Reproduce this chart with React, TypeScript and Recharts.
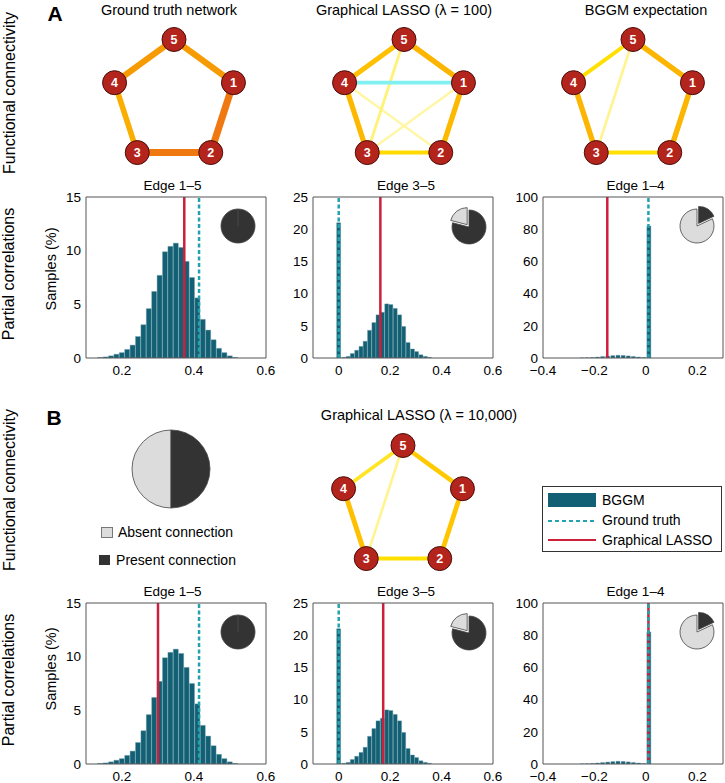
import React from "react";
import {
  Bar,
  Cell,
  ComposedChart,
  Pie,
  PieChart,
  ReferenceLine,
  Scatter,
  ScatterChart,
  XAxis,
  YAxis,
} from "recharts";

const FONT = '"Liberation Sans", Arial, Helvetica, sans-serif';

// five regions laid out on a unit pentagon
const NODES = [
  { id: 1, x: 0.951, y: 0.309 },
  { id: 2, x: 0.588, y: -0.809 },
  { id: 3, x: -0.588, y: -0.809 },
  { id: 4, x: -0.951, y: 0.309 },
  { id: 5, x: 0, y: 1 },
];

// [from, to, partial correlation]
type Edge = [number, number, number];
const truthEdges: Edge[] = [[1, 2, 0.5], [2, 3, 0.5], [1, 5, 0.42], [4, 5, 0.42], [3, 4, 0.36]];
const lasso100Edges: Edge[] = [
  [2, 4, 0.06], [1, 3, 0.06], [3, 5, 0.1], [1, 4, -0.155],
  [2, 3, 0.22], [4, 5, 0.3], [1, 2, 0.33], [3, 4, 0.33], [1, 5, 0.34],
];
const bggmEdges: Edge[] = [[3, 5, 0.08], [4, 5, 0.2], [2, 3, 0.2], [1, 5, 0.34], [1, 2, 0.34], [3, 4, 0.34]];
const lasso10kEdges: Edge[] = [[3, 5, 0.08], [4, 5, 0.17], [2, 3, 0.2], [1, 5, 0.27], [1, 2, 0.28], [3, 4, 0.3]];

// BGGM posterior samples (% of samples per bin)
const edge15X = [0.14, 0.155, 0.17, 0.185, 0.2, 0.215, 0.23, 0.245, 0.26, 0.275, 0.29, 0.305, 0.32, 0.335, 0.35, 0.365, 0.38, 0.395, 0.41, 0.425, 0.44, 0.455, 0.47, 0.485, 0.5, 0.515];
const edge15Pct = [0.05, 0.1, 0.2, 0.35, 0.5, 0.8, 1.2, 2.0, 3.1, 4.6, 6.2, 7.7, 9.9, 10.4, 10.7, 10.3, 9.0, 7.5, 5.6, 3.6, 2.6, 1.7, 0.9, 0.5, 0.2, 0.05];
const edge35X = [0, 0.02, 0.037, 0.053, 0.07, 0.087, 0.103, 0.12, 0.137, 0.153, 0.17, 0.187, 0.203, 0.22, 0.237, 0.253, 0.27, 0.287, 0.303, 0.32, 0.337, 0.353];
const edge35Pct = [21, 0.1, 0.25, 0.7, 1.2, 1.8, 2.6, 4.3, 5.5, 6.7, 7.1, 8.4, 8.3, 7.7, 6.7, 4.9, 2.4, 1.4, 1.0, 0.5, 0.25, 0.1];
const edge14X = [-0.25, -0.23, -0.21, -0.19, -0.17, -0.15, -0.13, -0.11, -0.09, -0.07, -0.05, -0.03, -0.01, 0.01];
const edge14Pct = [0.05, 0.15, 0.3, 0.6, 0.9, 1.2, 1.5, 1.7, 1.6, 1.3, 1.0, 0.6, 0.3, 82];

const truth = { e15: 0.414, e35: 0, e14: 0.01 };
const lassoA = { e15: 0.373, e35: 0.162, e14: -0.15 };
const lassoB = { e15: 0.3, e35: 0.173, e14: 0.01 };

// share of samples: [absent, present]
const pie15 = [0, 100];
const pie35 = [21, 79];
const pie14 = [82, 18];
const pieLegend = [50, 50];
const sliceNames = ["Absent connection", "Present connection"];

const e15Ticks = [0.1, 0.2, 0.3, 0.4, 0.5, 0.6];
const e15Labels = [0.2, 0.4, 0.6];
const e35Ticks = [-0.1, 0, 0.1, 0.2, 0.3, 0.4, 0.5, 0.6];
const e35Labels = [0, 0.2, 0.4, 0.6];
const e14Ticks = [-0.4, -0.3, -0.2, -0.1, 0, 0.1, 0.2, 0.3];
const e14Labels = [-0.4, -0.2, 0, 0.2];

const BAR = "#135F73";
const RED = "#CC1F3C";
const TEAL = "#22A3AE";
const AXIS = "#555";

const hist = (xs: number[], ys: number[]) => xs.map((x, i) => ({ x, pct: ys[i] }));
const fmt = (v: number) => (v < 0 ? "\u2212" : "") + String(Math.abs(Math.round(v * 100) / 100));

const STOPS: Array<[number, number[]]> = [
  [0.05, [255, 248, 176]],
  [0.1, [255, 242, 122]],
  [0.2, [255, 224, 0]],
  [0.3, [255, 192, 0]],
  [0.4, [247, 164, 0]],
  [0.5, [240, 120, 16]],
];

const edgeStyle = (w: number) => {
  const a = Math.abs(w);
  if (w < 0) return { color: "#80F0F0", width: 2 + 12 * a };
  let rgb = STOPS[0][1];
  for (let i = 1; i < STOPS.length; i++) {
    const [a0, c0] = STOPS[i - 1];
    const [a1, c1] = STOPS[i];
    if (a >= a1) rgb = c1;
    else if (a > a0) {
      const t = (a - a0) / (a1 - a0);
      rgb = c0.map((c, k) => Math.round(c + t * (c1[k] - c)));
      break;
    }
  }
  return { color: `rgb(${rgb.join(",")})`, width: 1.8 + 10.5 * a };
};

const NodeDot = (props: any) => {
  const { cx, cy, payload } = props;
  return (
    <g>
      <circle cx={cx} cy={cy} r={12} fill="#B3241C" stroke="#4a0c08" strokeWidth={1} />
      <text x={cx} y={cy} dy="0.36em" textAnchor="middle" fill="#fff" fontSize={12.5} fontWeight={700} fontFamily={FONT}>
        {payload.id}
      </text>
    </g>
  );
};

const nodeById = (id: number) => NODES.find((n) => n.id === id)!;

const Network = ({ edges, cx, cy }: { edges: Edge[]; cx: number; cy: number }) => (
  <div style={{ position: "absolute", left: cx - 80, top: cy - 80 }}>
    <ScatterChart width={160} height={160} margin={{ top: 0, right: 0, bottom: 0, left: 0 }}>
      <XAxis type="number" dataKey="x" domain={[-1.28, 1.28]} hide />
      <YAxis type="number" dataKey="y" domain={[-1.28, 1.28]} hide />
      {edges.map(([a, b, w]) => {
        const s = edgeStyle(w);
        return (
          <Scatter
            key={`${a}-${b}`}
            data={[nodeById(a), nodeById(b)]}
            line={{ stroke: s.color, strokeWidth: s.width }}
            shape={() => <g />}
            isAnimationActive={false}
          />
        );
      })}
      <Scatter data={NODES} shape={NodeDot} isAnimationActive={false} />
    </ScatterChart>
  </div>
);

const PLOT_W = 180;
const PLOT_H = 161;
const M_TOP = 10;

type HistProps = {
  data: { x: number; pct: number }[];
  xDomain: [number, number];
  xTicks: number[];
  xLabels: number[];
  yTicks: number[];
  barSize: number;
  lasso: number;
  truthX: number;
  left: number;
  top: number;
};

const Histogram = ({ data, xDomain, xTicks, xLabels, yTicks, barSize, lasso, truthX, left, top }: HistProps) => {
  const yDomain: [number, number] = [0, yTicks[yTicks.length - 1]];
  const tickStyle = { fill: "#000", fontSize: 13.5, fontFamily: FONT };
  return (
    <div style={{ position: "absolute", left: left - 36, top: top - M_TOP }}>
      <ComposedChart width={36 + PLOT_W + 12} height={M_TOP + PLOT_H + 26} data={data} margin={{ top: M_TOP, right: 12, bottom: 0, left: 0 }}>
        <XAxis xAxisId="b" type="number" dataKey="x" domain={xDomain} ticks={xLabels} interval={0} tickFormatter={fmt}
          tickLine={false} tickSize={0} tickMargin={7} height={26} axisLine={{ stroke: AXIS }} tick={tickStyle} allowDataOverflow />
        <XAxis xAxisId="t" orientation="top" type="number" domain={xDomain} ticks={xTicks} interval={0} mirror tick={false}
          tickSize={3} axisLine={{ stroke: AXIS }} tickLine={{ stroke: "#999" }} allowDataOverflow />
        <YAxis yAxisId="l" type="number" domain={yDomain} ticks={yTicks} interval={0} width={36} tickLine={false}
          tickSize={0} tickMargin={5} axisLine={{ stroke: AXIS }} tick={tickStyle} allowDataOverflow />
        <YAxis yAxisId="r" orientation="right" type="number" domain={yDomain} ticks={yTicks} interval={0} mirror tick={false}
          tickSize={3} axisLine={{ stroke: AXIS }} tickLine={{ stroke: "#999" }} allowDataOverflow />
        <Bar xAxisId="b" yAxisId="l" dataKey="pct" fill={BAR} stroke="#6d9fae" strokeWidth={0.4} barSize={barSize} isAnimationActive={false} />
        <ReferenceLine xAxisId="b" yAxisId="l" x={lasso} stroke={RED} strokeWidth={2.5} />
        <ReferenceLine xAxisId="b" yAxisId="l" x={truthX} stroke={TEAL} strokeWidth={2.5} strokeDasharray="4 2.5" />
      </ComposedChart>
    </div>
  );
};

const SLICE_FILL = ["#DCDCDC", "#333333"];

const PieInset = ({ values, cx, cy, r, explode }: { values: number[]; cx: number; cy: number; r: number; explode: number }) => {
  const total = values.reduce((s, v) => s + v, 0);
  const small = values.findIndex((v) => v > 0 && v < total / 2);
  let dx = 0;
  let dy = 0;
  if (small >= 0) {
    const before = values.slice(0, small).reduce((s, v) => s + v, 0);
    const mid = ((90 + (360 * (before + values[small] / 2)) / total) * Math.PI) / 180;
    dx = explode * Math.cos(mid);
    dy = -explode * Math.sin(mid);
  }
  const data = values.map((v, i) => ({ name: sliceNames[i], value: v }));
  const size = 2 * (r + 6);
  return (
    <div style={{ position: "absolute", left: cx - size / 2, top: cy - size / 2 }}>
      <PieChart width={size} height={size} margin={{ top: 0, right: 0, bottom: 0, left: 0 }}>
        <Pie data={data} dataKey="value" cx={size / 2} cy={size / 2} outerRadius={r} startAngle={90} endAngle={450}
          strokeWidth={0.8} isAnimationActive={false}>
          {data.map((d, i) => (
            <Cell key={d.name} fill={i === small ? "none" : SLICE_FILL[i]} stroke={i === small ? "none" : "#444"} />
          ))}
        </Pie>
        {small >= 0 && (
          <Pie data={data} dataKey="value" cx={size / 2 + dx} cy={size / 2 + dy} outerRadius={r} startAngle={90} endAngle={450}
            strokeWidth={0.8} isAnimationActive={false}>
            {data.map((d, i) => (
              <Cell key={d.name} fill={i === small ? SLICE_FILL[i] : "none"} stroke={i === small ? "#444" : "none"} />
            ))}
          </Pie>
        )}
      </PieChart>
    </div>
  );
};

const Txt = ({ x, y, size, bold, rotate, children }: { x: number; y: number; size: number; bold?: boolean; rotate?: boolean; children: React.ReactNode }) => (
  <div
    style={{
      position: "absolute",
      left: x,
      top: y,
      transform: `translate(-50%, -50%)${rotate ? " rotate(-90deg)" : ""}`,
      fontSize: size,
      fontWeight: bold ? 700 : 400,
      whiteSpace: "nowrap",
      lineHeight: 1,
      fontFamily: FONT,
      color: "#000",
    }}
  >
    {children}
  </div>
);

const COLS = [86, 313, 543];
const ROWS = [197, 603];

const HistRow = ({ top, lasso }: { top: number; lasso: { e15: number; e35: number; e14: number } }) => (
  <>
    <Histogram data={hist(edge15X, edge15Pct)} xDomain={[0.1, 0.6]} xTicks={e15Ticks} xLabels={e15Labels} yTicks={[0, 5, 10, 15]}
      barSize={5} lasso={lasso.e15} truthX={truth.e15} left={COLS[0]} top={top} />
    <Histogram data={hist(edge35X, edge35Pct)} xDomain={[-0.1, 0.6]} xTicks={e35Ticks} xLabels={e35Labels} yTicks={[0, 5, 10, 15, 20, 25]}
      barSize={4} lasso={lasso.e35} truthX={truth.e35} left={COLS[1]} top={top} />
    <Histogram data={hist(edge14X, edge14Pct)} xDomain={[-0.4, 0.3]} xTicks={e14Ticks} xLabels={e14Labels} yTicks={[0, 20, 40, 60, 80, 100]}
      barSize={4} lasso={lasso.e14} truthX={truth.e14} left={COLS[2]} top={top} />
    <Txt x={172.5} y={top - 11} size={13.5}>Edge 1–5</Txt>
    <Txt x={406} y={top - 11} size={13.5}>Edge 3–5</Txt>
    <Txt x={635.5} y={top - 11} size={13.5}>Edge 1–4</Txt>
    <PieInset values={pie15} cx={237.5} cy={top + 29} r={17} explode={3} />
    <PieInset values={pie35} cx={469} cy={top + 30} r={17} explode={3} />
    <PieInset values={pie14} cx={696.5} cy={top + 29} r={17} explode={3} />
  </>
);

const App = () => (
  <div style={{ position: "fixed", left: 0, top: 0, width: 725, height: 783, overflow: "hidden", background: "#fff", fontFamily: FONT }}>
    <Txt x={55} y={13} size={21} bold>A</Txt>
    <Txt x={54} y={417} size={21} bold>B</Txt>
    <Txt x={10} y={93} size={16} rotate>Functional connectivity</Txt>
    <Txt x={10} y={490} size={16} rotate>Functional connectivity</Txt>
    <Txt x={9} y={274} size={16} rotate>Partial correlations</Txt>
    <Txt x={9} y={680} size={16} rotate>Partial correlations</Txt>
    <Txt x={51} y={269} size={14.5} rotate>Samples (%)</Txt>
    <Txt x={51} y={669} size={14.5} rotate>Samples (%)</Txt>

    <Txt x={169} y={10} size={14.5}>Ground truth network</Txt>
    <Txt x={404} y={10} size={14.5}>Graphical LASSO (λ = 100)</Txt>
    <Txt x={646} y={10} size={14.5}>BGGM expectation</Txt>
    <Txt x={419} y={415} size={14.5}>Graphical LASSO (λ = 10,000)</Txt>

    <Network edges={truthEdges} cx={173.5} cy={101.5} />
    <Network edges={lasso100Edges} cx={403.5} cy={101.5} />
    <Network edges={bggmEdges} cx={633} cy={101.5} />
    <Network edges={lasso10kEdges} cx={403} cy={507.5} />

    <HistRow top={ROWS[0]} lasso={lassoA} />
    <HistRow top={ROWS[1]} lasso={lassoB} />

    <PieInset values={pieLegend} cx={171} cy={469} r={39} explode={0} />
    <div style={{ position: "absolute", left: 101, top: 527, width: 10, height: 9, background: SLICE_FILL[0], border: "1px solid #777" }} />
    <Txt x={175.5} y={532} size={14}>{sliceNames[0]}</Txt>
    <div style={{ position: "absolute", left: 99, top: 555, width: 11, height: 10, background: SLICE_FILL[1] }} />
    <Txt x={176} y={560} size={14}>{sliceNames[1]}</Txt>

    <svg style={{ position: "absolute", left: 542, top: 486 }} width={180} height={66}>
      <rect x={0.5} y={0.5} width={179} height={65} fill="#fff" stroke="#333" strokeWidth={1} />
      <rect x={6} y={7} width={48} height={14} fill={BAR} />
      <line x1={6} x2={54} y1={35} y2={35} stroke={TEAL} strokeWidth={2} strokeDasharray="4 3" />
      <line x1={6} x2={54} y1={54} y2={54} stroke={RED} strokeWidth={2} />
      <text x={60} y={14} dy="0.36em" fontSize={14} fontFamily={FONT}>BGGM</text>
      <text x={60} y={34} dy="0.36em" fontSize={14} fontFamily={FONT}>Ground truth</text>
      <text x={60} y={54} dy="0.36em" fontSize={14} fontFamily={FONT}>Graphical LASSO</text>
    </svg>
  </div>
);

export default App;
